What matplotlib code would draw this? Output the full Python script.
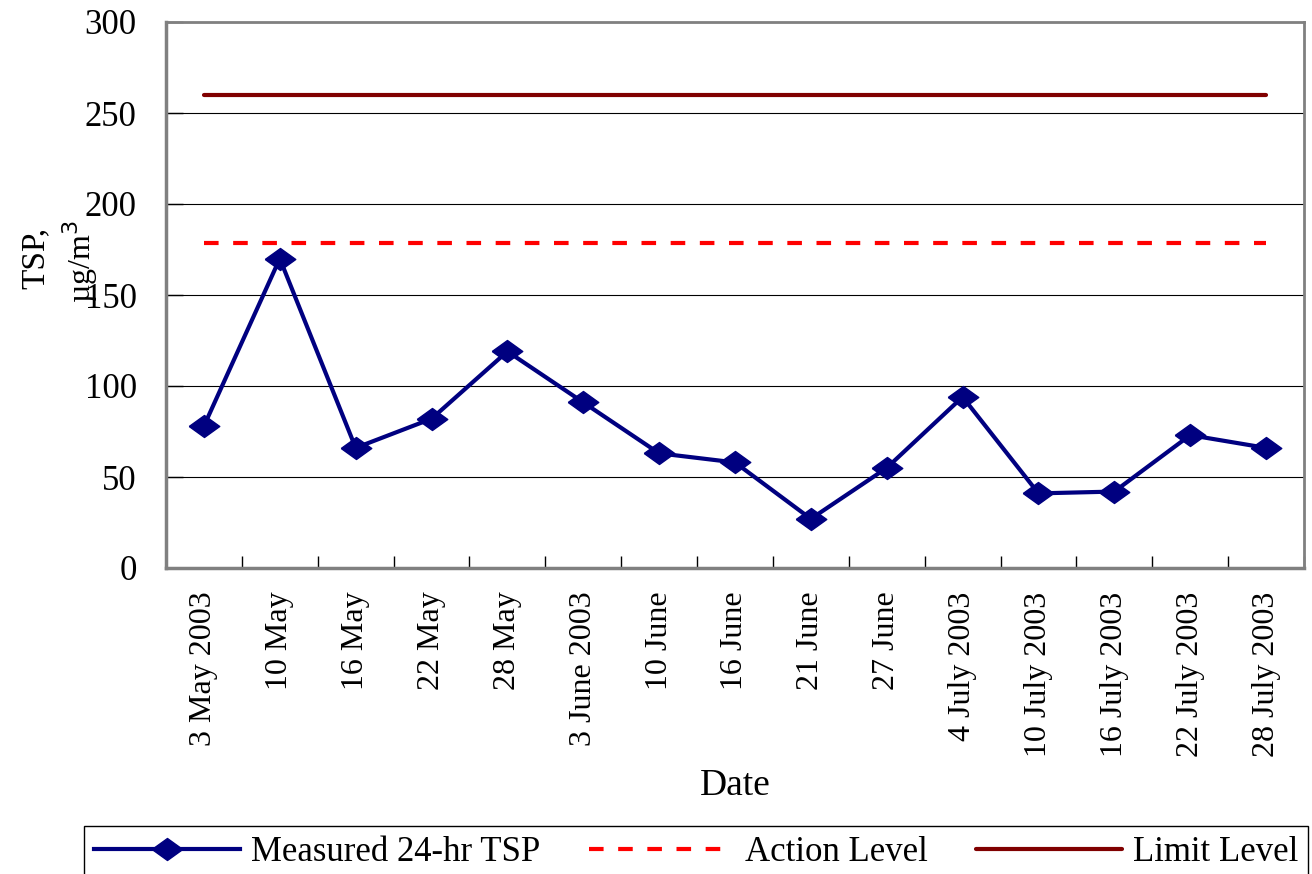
import matplotlib
matplotlib.use("Agg")
import matplotlib.pyplot as plt
import numpy as np

plt.rcParams['font.family'] = ['Liberation Serif', 'DejaVu Serif']

dates = ["3 May 2003", "10 May", "16 May", "22 May", "28 May", "3 June 2003",
         "10 June", "16 June", "21 June", "27 June", "4 July 2003", "10 July 2003",
         "16 July 2003", "22 July 2003", "28 July 2003"]
tsp = [78, 170, 66, 82, 119, 91, 63, 58, 27, 55, 94, 41, 42, 73, 66]
action_level = [178.5] * len(dates)
limit_level = [260] * len(dates)
yticks = [0, 50, 100, 150, 200, 250, 300]

W, H = 1312, 874
fig = plt.figure(figsize=(W / 100, H / 100), dpi=100)
ax = fig.add_axes([166 / W, 1 - 568 / H, (1304 - 166) / W, (568 - 22) / H])

x = np.arange(len(dates))
diamond = [(-1, 0), (0, 0.72), (1, 0), (0, -0.72), (-1, 0)]
ax.plot(x, tsp, color='#000080', lw=3, marker=diamond, markersize=22,
        markerfacecolor='#000080', markeredgecolor='#000080',
        label='Measured 24-hr TSP', zorder=4)
ax.plot(x, action_level, color='#ff0000', lw=3, linestyle=(0, (3.5, 3.5)),
        label='Action Level', zorder=3)
ax.plot(x, limit_level, color='#800000', lw=3, solid_capstyle='round',
        label='Limit Level', zorder=3)

ax.set_xlim(-0.5, len(dates) - 0.5)
ax.set_ylim(0, 300)
ax.set_yticks(yticks)
ax.set_yticklabels([str(v) for v in yticks], fontsize=25)
ax.yaxis.grid(True, color='black', lw=0.8)
ax.set_axisbelow(True)

ax.set_xticks(x)
ax.set_xticklabels(dates, rotation=90, fontsize=23, va='top', ha='center')
ax.set_xticks(np.arange(len(dates) + 1) - 0.5, minor=True)
ax.tick_params(axis='x', which='major', length=0, pad=17)
ax.tick_params(axis='x', which='minor', direction='in', length=9, width=1, color='black')
ax.tick_params(axis='y', which='major', direction='in', length=12, width=1, pad=21, color='black')

for s in ax.spines.values():
    s.set_color('#808080')
    s.set_linewidth(2)
ax.spines['left'].set_linewidth(2.5)
ax.spines['bottom'].set_linewidth(2.5)

ax.set_xlabel('Date', fontsize=27, labelpad=8)

fig.text(35 / W, 1 - 258 / H, 'TSP,', rotation=90, fontsize=24, ha='center', va='center')
fig.text(80 / W, 1 - 262 / H, 'µg/m$^3$', rotation=90, fontsize=23, ha='center', va='center')

leg = fig.legend(loc='upper left', bbox_to_anchor=(84 / W, 1 - 826 / H),
                 bbox_transform=fig.transFigure, ncol=3, fontsize=25,
                 frameon=True, fancybox=False, edgecolor='black', framealpha=1,
                 borderpad=0.3, handlelength=4.2, handletextpad=0.3,
                 columnspacing=1.4, borderaxespad=0, numpoints=1)
leg.get_frame().set_linewidth(1)

fig.savefig('out.png', dpi=100)
